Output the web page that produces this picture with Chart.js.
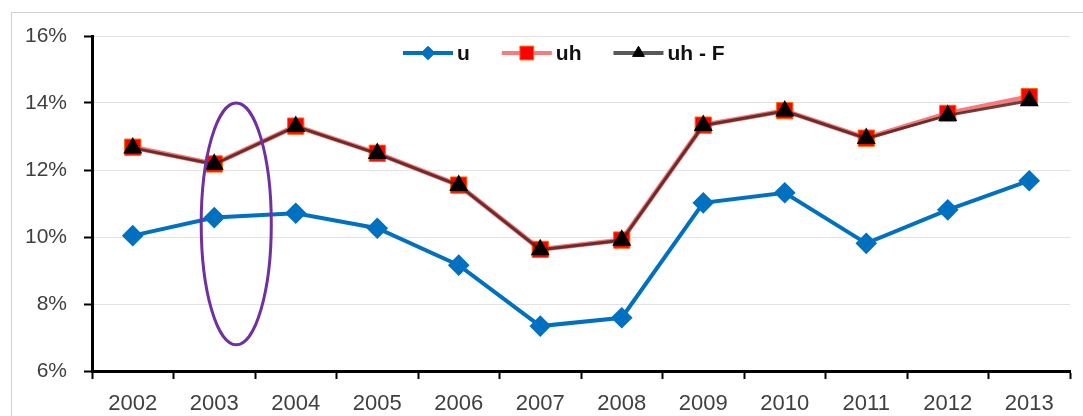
<!DOCTYPE html>
<html>
<head>
<meta charset="utf-8">
<script src="https://cdn.jsdelivr.net/npm/chart.js"></script>
<style>
  html, body { margin: 0; padding: 0; background: #fff; }
  #wrap { position: relative; width: 1083px; height: 416px; overflow: hidden; }
  #frame { position: absolute; left: 11px; top: 12px; width: 1200px; height: 500px; border: 1px solid #cfcfcf; box-sizing: border-box; }
  canvas { position: absolute; left: 0; top: 0; }
</style>
</head>
<body>
<div id="wrap">
  <div id="frame"></div>
  <canvas id="line_chart" width="1083" height="416"></canvas>
</div>
<script>
const years = ['2002', '2003', '2004', '2005', '2006', '2007', '2008', '2009', '2010', '2011', '2012', '2013'];
const seriesNames = ['u', 'uh', 'uh - F'];
const uValues   = [10.04, 10.58, 10.71, 10.26, 9.16, 7.34, 7.59, 11.02, 11.32, 9.81, 10.81, 11.68];
const uhValues  = [12.68, 12.18, 13.31, 12.50, 11.55, 9.63, 9.91, 13.34, 13.77, 12.95, 13.69, 14.19];
const uhFValues = [12.66, 12.17, 13.30, 12.49, 11.54, 9.62, 9.90, 13.33, 13.76, 12.94, 13.63, 14.07];
const yTicks = [6, 8, 10, 12, 14, 16];

const fontFamily = "'Liberation Sans', Arial, sans-serif";

// marker shapes for the legend
function drawMarker(ctx, style, x, y, r, fill, stroke) {
    ctx.save();
    ctx.fillStyle = fill;
    ctx.strokeStyle = stroke;
    ctx.lineWidth = 1;
    ctx.beginPath();
    if (style === 'rectRot') {
        ctx.moveTo(x, y - r); ctx.lineTo(x + r, y); ctx.lineTo(x, y + r); ctx.lineTo(x - r, y);
    } else if (style === 'rect') {
        const s = r * Math.SQRT1_2;
        ctx.rect(x - s, y - s, 2 * s, 2 * s);
    } else {
        const h = r * 1.5, w = r * Math.sqrt(3) / 2;
        ctx.moveTo(x, y - r); ctx.lineTo(x + w, y - r + h); ctx.lineTo(x - w, y - r + h);
    }
    ctx.closePath();
    ctx.fill();
    ctx.stroke();
    ctx.restore();
}

// legend drawn inside the plot, near the top
const innerLegend = {
    id: 'innerLegend',
    afterDraw(chart) {
        const ctx = chart.ctx;
        const area = chart.chartArea;
        const lineLen = 50, gap = 4, spacing = 32;
        let x = area.left + 311;
        const y = area.top + 17;
        ctx.save();
        ctx.font = 'bold 21px ' + fontFamily;
        ctx.textBaseline = 'middle';
        chart.data.datasets.forEach(ds => {
            ctx.strokeStyle = ds.legendLine || ds.borderColor;
            ctx.lineWidth = 4;
            ctx.beginPath();
            ctx.moveTo(x, y);
            ctx.lineTo(x + lineLen, y);
            ctx.stroke();
            drawMarker(ctx, ds.pointStyle, x + lineLen / 2, y, ds.pointRadius * 0.85, ds.pointBackgroundColor, ds.pointBorderColor);
            x += lineLen + gap;
            ctx.fillStyle = '#111';
            ctx.fillText(ds.label, x, y + 1);
            x += ctx.measureText(ds.label).width + spacing;
        });
        ctx.restore();
    }
};

// highlight ring around 2003
const highlight = {
    id: 'highlight',
    afterDraw(chart) {
        const xs = chart.scales.x, ys = chart.scales.y;
        const cx = xs.getPixelForValue(1.27);
        const rx = xs.getPixelForValue(1.7) - xs.getPixelForValue(1.27);
        const top = ys.getPixelForValue(14.0), bottom = ys.getPixelForValue(6.78);
        const ctx = chart.ctx;
        ctx.save();
        ctx.strokeStyle = '#7030a0';
        ctx.lineWidth = 3;
        ctx.beginPath();
        ctx.ellipse(cx, (top + bottom) / 2, rx, (bottom - top) / 2, 0, 0, Math.PI * 2);
        ctx.stroke();
        ctx.restore();
    }
};

const ctx = document.getElementById('line_chart').getContext('2d');

const line_chart = new Chart(ctx, {
    type: 'line',
    data: {
        labels: years,
        datasets: [{
            label: seriesNames[0],
            data: uValues,
            borderColor: '#0070c0',
            borderWidth: 4,
            pointStyle: 'rectRot',
            pointRadius: 8,
            pointBackgroundColor: '#0070c0',
            pointBorderColor: '#0070c0',
            order: 2
        }, {
            label: seriesNames[1],
            data: uhValues,
            borderColor: '#f47c7c',
            borderWidth: 5,
            pointStyle: 'rect',
            pointRadius: 11.5,
            pointBackgroundColor: '#ff0000',
            pointBorderColor: '#ff6a00',
            pointBorderWidth: 1,
            order: 1
        }, {
            label: seriesNames[2],
            data: uhFValues,
            borderColor: 'rgba(85, 30, 30, 0.85)',
            legendLine: '#595959',
            borderWidth: 3,
            pointStyle: 'triangle',
            pointRadius: 8,
            pointBackgroundColor: '#000000',
            pointBorderColor: '#000000',
            order: 0
        }]
    },
    options: {
        responsive: false,
        animation: false,
        layout: {
            padding: { left: 0, right: 13, top: 36, bottom: 0 }
        },
        plugins: {
            legend: { display: false },
            tooltip: { enabled: false }
        },
        scales: {
            x: {
                offset: true,
                grid: {
                    offset: true,
                    drawOnChartArea: false,
                    tickLength: 8,
                    tickColor: '#000',
                    tickWidth: 2
                },
                border: { color: '#000', width: 3 },
                ticks: {
                    color: '#404040',
                    font: { family: fontFamily, size: 22 },
                    padding: 12,
                    maxRotation: 0
                },
                afterFit: scale => { scale.height = 45; }
            },
            y: {
                min: 6,
                max: 16,
                afterBuildTicks: scale => {
                    scale.ticks = yTicks.map(v => ({ value: v }));
                },
                grid: {
                    color: '#e3e3e3',
                    lineWidth: 1,
                    tickLength: 8,
                    tickColor: '#000',
                    tickWidth: 2
                },
                border: { color: '#000', width: 3 },
                ticks: {
                    color: '#404040',
                    font: { family: fontFamily, size: 21 },
                    padding: 17,
                    callback: value => value + '%'
                },
                afterFit: scale => { scale.width = 92; }
            }
        }
    },
    plugins: [innerLegend, highlight]
});
</script>
</body>
</html>
